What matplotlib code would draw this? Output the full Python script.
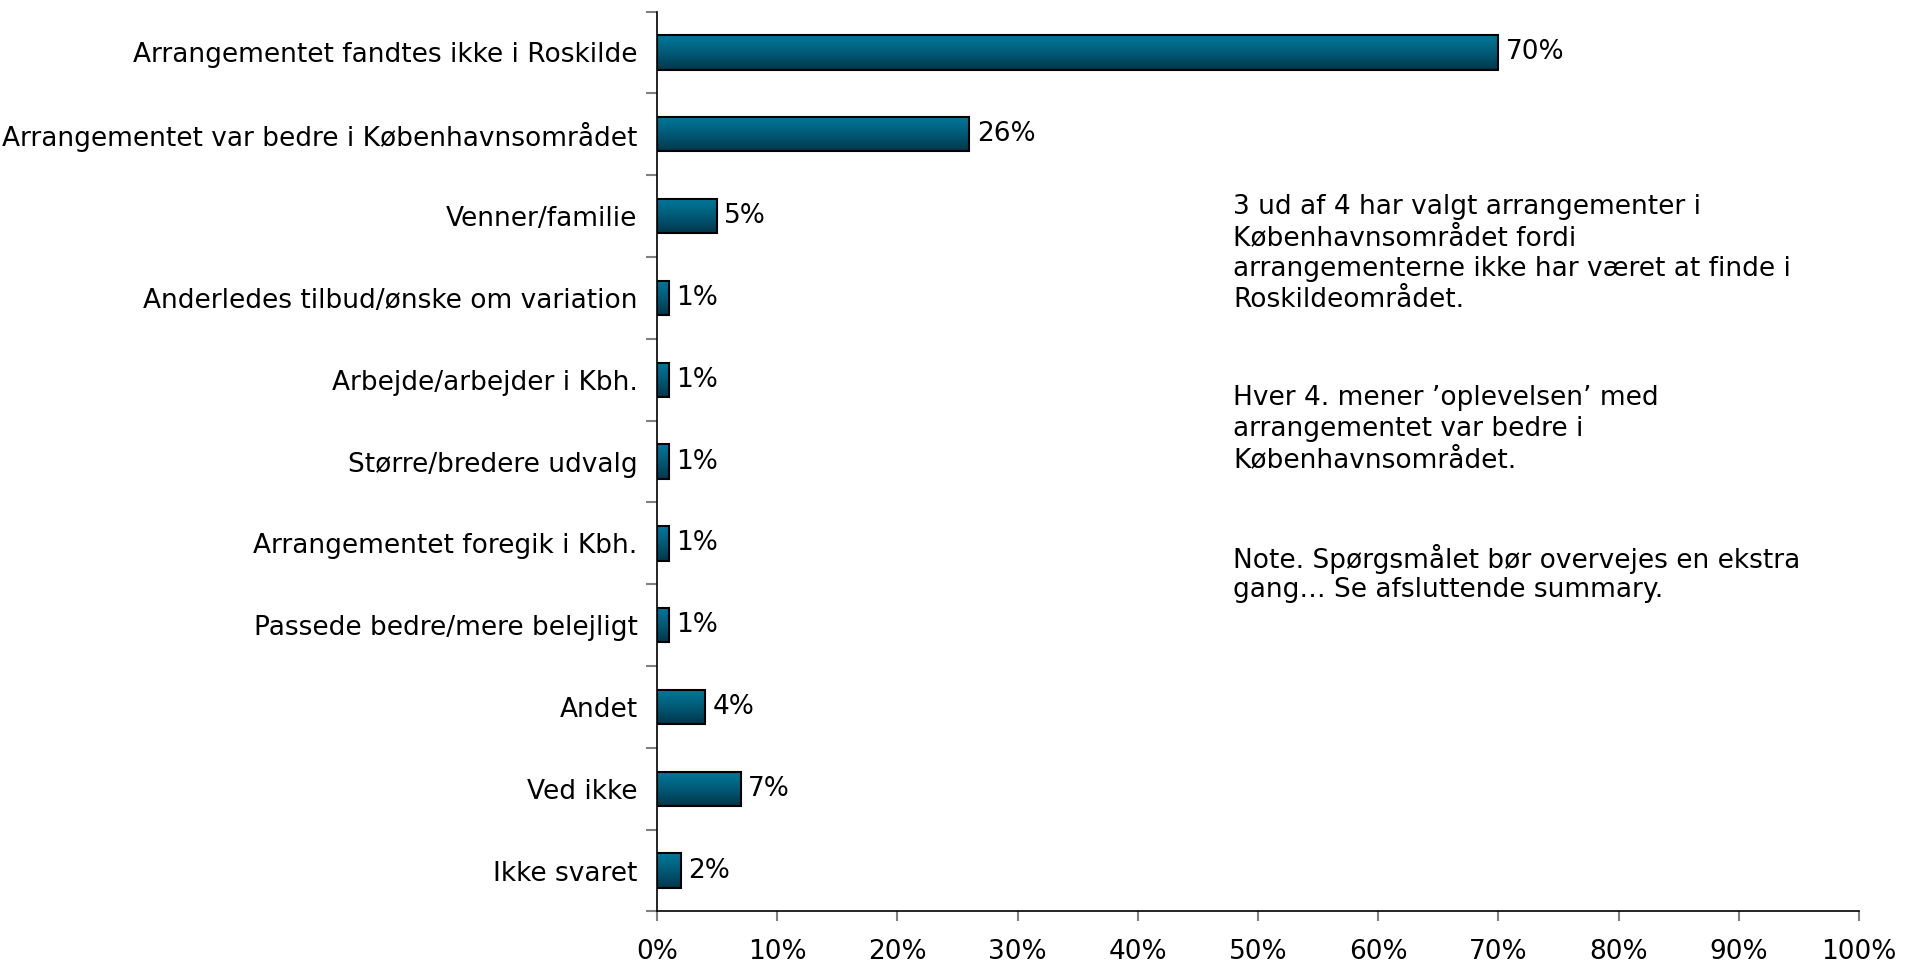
import numpy as np
import matplotlib.pyplot as plt
from matplotlib.colors import LinearSegmentedColormap

categories = ["Arrangementet fandtes ikke i Roskilde",
              "Arrangementet var bedre i Københavnsområdet",
              "Venner/familie",
              "Anderledes tilbud/ønske om variation",
              "Arbejde/arbejder i Kbh.",
              "Større/bredere udvalg",
              "Arrangementet foregik i Kbh.",
              "Passede bedre/mere belejligt",
              "Andet",
              "Ved ikke",
              "Ikke svaret"]
values = [70, 26, 5, 1, 1, 1, 1, 1, 4, 7, 2]
xticks = [0, 10, 20, 30, 40, 50, 60, 70, 80, 90, 100]

notes = [["3 ud af 4 har valgt arrangementer i", "Københavnsområdet fordi",
          "arrangementerne ikke har været at finde i", "Roskildeområdet."],
         ["Hver 4. mener ’oplevelsen’ med", "arrangementet var bedre i",
          "Københavnsområdet."],
         ["Note. Spørgsmålet bør overvejes en ekstra", "gang… Se afsluttende summary."]]

plt.rcParams['font.family'] = ['DejaVu Sans']
fs = 19
fig = plt.figure(figsize=(19.18, 9.64), dpi=100)
ax = fig.add_axes([0.3425, 0.0545, 0.6267, 0.9335])

n = len(categories)
ypos = np.arange(n)
bars = ax.barh(ypos, values, height=0.42, facecolor='none', edgecolor='black', linewidth=1.5, zorder=3)

cmap = LinearSegmentedColormap.from_list('g', ['#00799c', '#005b77', '#00364a'])
grad = np.linspace(0, 1, 64).reshape(-1, 1)
for b in bars:
    x0, y0, w, h = b.get_x(), b.get_y(), b.get_width(), b.get_height()
    ax.imshow(grad, cmap=cmap, aspect='auto', extent=[x0, x0 + w, y0 + h, y0],
              zorder=2, interpolation='bilinear')

for v, y in zip(values, ypos):
    ax.text(v + 0.6, y, f"{v}%", va='center', ha='left', fontsize=fs)

ax.set_xlim(0, 100)
ax.set_ylim(n - 0.5, -0.5)
ax.set_xticks(xticks)
ax.set_xticklabels([f"{t}%" for t in xticks], fontsize=fs)
ax.set_yticks(ypos)
ax.set_yticklabels(categories, fontsize=fs)
ax.tick_params(axis='y', length=0, pad=14)
ax.set_yticks(np.arange(-0.5, n, 1), minor=True)
ax.tick_params(axis='y', which='minor', length=8, color='#808080', width=1.5)
ax.tick_params(axis='x', length=7, width=1.5, color='#808080', pad=13)

for s in ['top', 'right']:
    ax.spines[s].set_visible(False)
ax.spines['left'].set_linewidth(1.2)
ax.spines['bottom'].set_linewidth(1.2)

# first-line centre of each paragraph, figure fraction
starts = [0.785, 0.587, 0.420]
step = 0.0322
for para, y0 in zip(notes, starts):
    for i, line in enumerate(para):
        fig.text(0.643, y0 - i * step, line, fontsize=fs, va='center', ha='left')

fig.savefig("out.png", dpi=100)
